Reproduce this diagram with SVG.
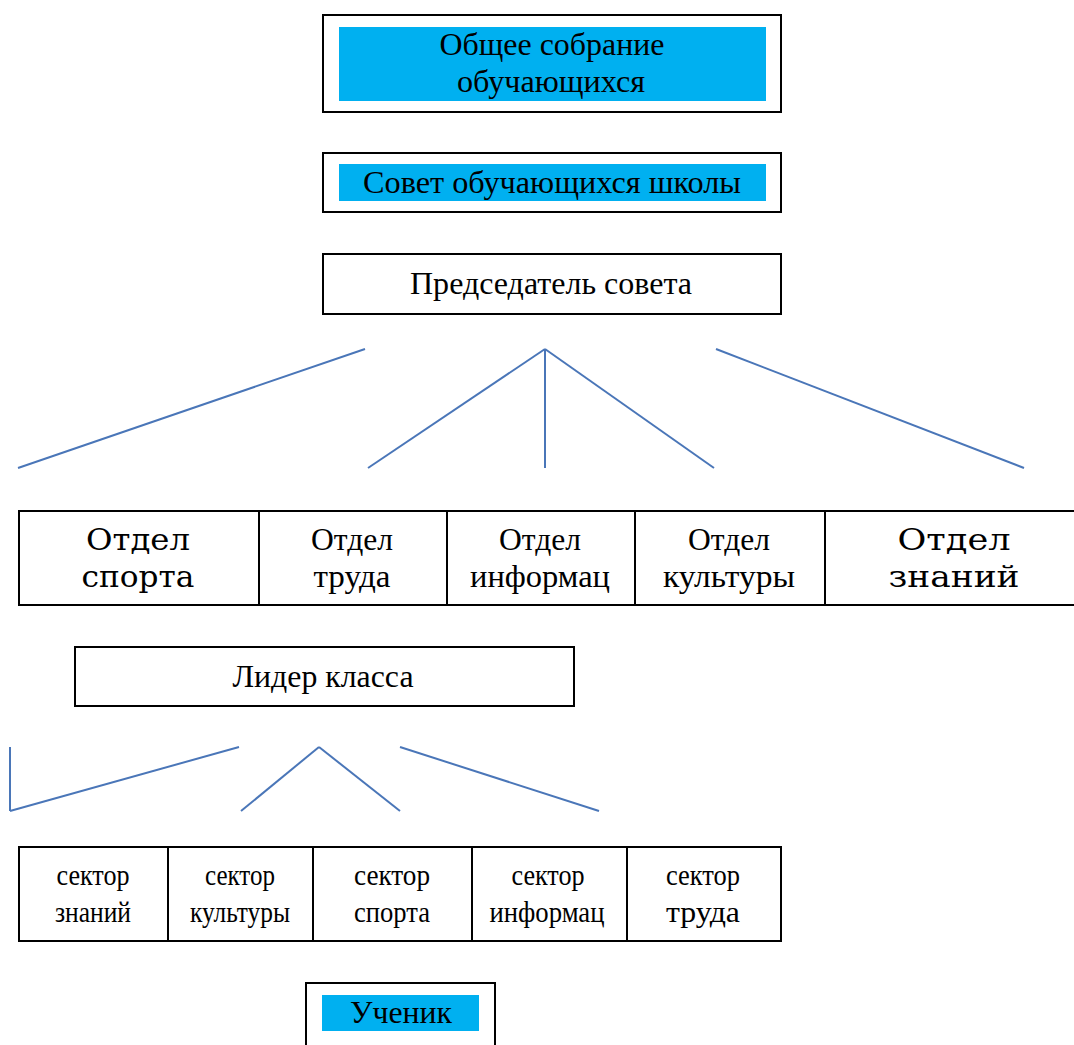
<svg xmlns="http://www.w3.org/2000/svg" width="1074" height="1045" viewBox="0 0 1074 1045">
<style>
.box{fill:#fff;stroke:#000;stroke-width:2}
.hl{fill:#00b0f0}
.t{font-family:"Liberation Serif",serif;font-size:31px;fill:#000;text-anchor:middle}
.s{font-family:"Liberation Serif",serif;font-size:30px;fill:#000;text-anchor:middle}
.w{font-family:"DejaVu Serif",serif;font-size:29px;fill:#000;text-anchor:middle}
.c{stroke:#4a76b8;stroke-width:2;fill:none}
.d{stroke:#000;stroke-width:2}
</style>
<rect width="1074" height="1045" fill="#fff"/>
<g id="node-sobranie">
<rect class="box" x="323" y="15" width="458" height="97"/>
<rect class="hl" x="339" y="27" width="427" height="74"/>
<text class="t" x="552" y="55" textLength="225" lengthAdjust="spacingAndGlyphs">Общее собрание</text>
<text class="t" x="551" y="92" textLength="188" lengthAdjust="spacingAndGlyphs">обучающихся</text>
</g>
<g id="node-sovet">
<rect class="box" x="323" y="153" width="458" height="59"/>
<rect class="hl" x="339" y="164" width="427" height="37"/>
<text class="t" x="552" y="193" textLength="378" lengthAdjust="spacingAndGlyphs">Совет обучающихся школы</text>
</g>
<g id="node-predsedatel">
<rect class="box" x="323" y="254" width="458" height="60"/>
<text class="t" x="551" y="294" textLength="282" lengthAdjust="spacingAndGlyphs">Председатель совета</text>
</g>
<g id="connectors">
<line class="c" x1="365" y1="349" x2="18" y2="468"/>
<line class="c" x1="545" y1="349" x2="368" y2="468"/>
<line class="c" x1="545" y1="349" x2="545" y2="468"/>
<line class="c" x1="545" y1="349" x2="714" y2="468"/>
<line class="c" x1="716" y1="349" x2="1024" y2="468"/>
<line class="c" x1="10" y1="747" x2="10" y2="811"/>
<line class="c" x1="10" y1="811" x2="239" y2="747"/>
<line class="c" x1="241" y1="811" x2="319" y2="747"/>
<line class="c" x1="319" y1="747" x2="400" y2="811"/>
<line class="c" x1="400" y1="747" x2="599" y2="811"/>
</g>
<g id="node-otdely">
<rect class="box" x="19" y="511" width="1060" height="94"/>
<line class="d" x1="259" y1="511" x2="259" y2="605"/>
<line class="d" x1="447" y1="511" x2="447" y2="605"/>
<line class="d" x1="635" y1="511" x2="635" y2="605"/>
<line class="d" x1="825" y1="511" x2="825" y2="605"/>
</g>
<g id="node-otdel-sporta">
<text class="w" x="138" y="550" textLength="104" lengthAdjust="spacingAndGlyphs">Отдел</text>
<text class="w" x="138" y="587" textLength="113" lengthAdjust="spacingAndGlyphs">спорта</text>
</g>
<g id="node-otdel-truda">
<text class="t" x="352" y="550" textLength="82" lengthAdjust="spacingAndGlyphs">Отдел</text>
<text class="t" x="352" y="587" textLength="77" lengthAdjust="spacingAndGlyphs">труда</text>
</g>
<g id="node-otdel-inform">
<text class="t" x="540" y="550" textLength="82" lengthAdjust="spacingAndGlyphs">Отдел</text>
<text class="t" x="540" y="587" textLength="140" lengthAdjust="spacingAndGlyphs">информац</text>
</g>
<g id="node-otdel-kultury">
<text class="t" x="729" y="550" textLength="82" lengthAdjust="spacingAndGlyphs">Отдел</text>
<text class="t" x="729" y="587" textLength="132" lengthAdjust="spacingAndGlyphs">культуры</text>
</g>
<g id="node-otdel-znaniy">
<text class="w" x="954" y="550" textLength="113" lengthAdjust="spacingAndGlyphs">Отдел</text>
<text class="w" x="954" y="587" textLength="131" lengthAdjust="spacingAndGlyphs">знаний</text>
</g>
<g id="node-lider">
<rect class="box" x="75" y="647" width="499" height="59"/>
<text class="t" x="323" y="687" textLength="181" lengthAdjust="spacingAndGlyphs">Лидер класса</text>
</g>
<g id="node-sektory">
<rect class="box" x="19" y="847" width="762" height="94"/>
<line class="d" x1="168" y1="847" x2="168" y2="941"/>
<line class="d" x1="313" y1="847" x2="313" y2="941"/>
<line class="d" x1="472" y1="847" x2="472" y2="941"/>
<line class="d" x1="627" y1="847" x2="627" y2="941"/>
</g>
<g id="node-sektor-znaniy">
<text class="s" x="93" y="885" textLength="73" lengthAdjust="spacingAndGlyphs">сектор</text>
<text class="s" x="93" y="922" textLength="76" lengthAdjust="spacingAndGlyphs">знаний</text>
</g>
<g id="node-sektor-kultury">
<text class="s" x="240" y="885" textLength="70" lengthAdjust="spacingAndGlyphs">сектор</text>
<text class="s" x="240" y="922" textLength="100" lengthAdjust="spacingAndGlyphs">культуры</text>
</g>
<g id="node-sektor-sporta">
<text class="s" x="392" y="885" textLength="76" lengthAdjust="spacingAndGlyphs">сектор</text>
<text class="s" x="392" y="922" textLength="76" lengthAdjust="spacingAndGlyphs">спорта</text>
</g>
<g id="node-sektor-inform">
<text class="s" x="548" y="885" textLength="73" lengthAdjust="spacingAndGlyphs">сектор</text>
<text class="s" x="547" y="922" textLength="115" lengthAdjust="spacingAndGlyphs">информац</text>
</g>
<g id="node-sektor-truda">
<text class="s" x="703" y="885" textLength="74" lengthAdjust="spacingAndGlyphs">сектор</text>
<text class="s" x="703" y="922" textLength="74" lengthAdjust="spacingAndGlyphs">труда</text>
</g>
<g id="node-uchenik">
<rect class="box" x="306" y="983" width="189" height="70"/>
<rect class="hl" x="322" y="995" width="157" height="36"/>
<text class="t" x="401" y="1023" textLength="102" lengthAdjust="spacingAndGlyphs">Ученик</text>
</g>
</svg>
